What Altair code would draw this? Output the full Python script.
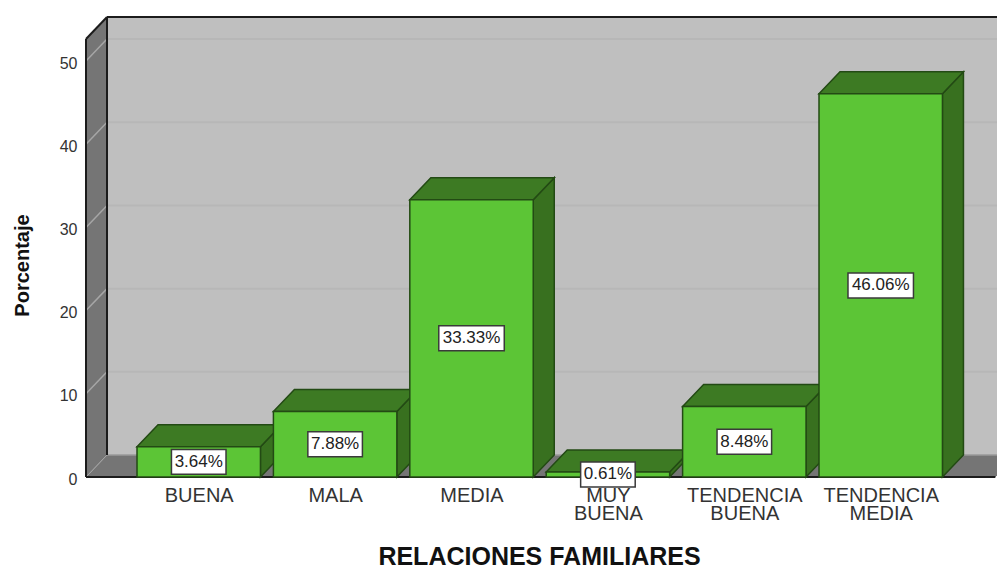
import altair as alt
import pandas as pd

categories = ["BUENA", "MALA", "MEDIA", "MUY\nBUENA", "TENDENCIA\nBUENA", "TENDENCIA\nMEDIA"]
values = [3.64, 7.88, 33.33, 0.61, 8.48, 46.06]
labels = ["3.64%", "7.88%", "33.33%", "0.61%", "8.48%", "46.06%"]
y_ticks = [0, 10, 20, 30, 40, 50]

# scale set-up: one x unit is one category step
X_MIN, X_MAX = -0.374, 6.305
Y_MAX = 55.29
BAR_W = 0.905
DX, DY = 0.154, 2.64
WALL_L = X_MIN
FLOOR_R = 6.293
BOX_CHAR_W, BOX_H = 0.04, 1.5

FRONT, TOP, SIDE, EDGE = "#5CC536", "#3D7A23", "#38701F", "#234A14"
BACK, DARK_WALL, GRID, WALL_GRID = "#BFBFBF", "#757575", "#B7B7B7", "#A6A6A6"
LINE = "#1C1C1C"
FONT = "Liberation Sans"

xs = alt.Scale(domain=[X_MIN, X_MAX], nice=False, zero=False)
ys = alt.Scale(domain=[0, Y_MAX], nice=False, zero=False)

centers = [i + BAR_W / 2 for i in range(len(categories))]
label_literal = "[" + ",".join("'" + c.replace("\n", "|") + "'" for c in categories) + "]"

x_axis = alt.Axis(
    values=centers, title="RELACIONES FAMILIARES", domain=False, ticks=False, grid=False,
    labelExpr=f"split({label_literal}[round(datum.value - {BAR_W / 2})], '|')",
    labelFont=FONT, labelFontSize=20, labelColor="#333333", labelPadding=8,
    labelLineHeight=18, labelOverlap=False, labelFlush=False, labelBound=False,
    titleFont=FONT, titleFontSize=25, titleFontWeight="bold", titleColor="#111111",
    titleX=453, titleY=79, titleBaseline="middle", titleAnchor="middle",
)
y_axis = alt.Axis(
    values=y_ticks, title="Porcentaje", domain=False, ticks=False, grid=False,
    labelFont=FONT, labelFontSize=16, labelColor="#333333", labelPadding=9, labelOffset=2,
    titleFont=FONT, titleFontSize=20, titleFontWeight="bold", titleColor="#111111",
    titleX=-64, titleY=248, titleAngle=270, titleBaseline="middle",
)


def X(f="x"):
    return alt.X(f"{f}:Q", scale=xs, axis=x_axis)


def Y(f="y"):
    return alt.Y(f"{f}:Q", scale=ys, axis=y_axis)


layers = []


def rules(df, color, w):
    return alt.Chart(df).mark_rule(color=color, strokeWidth=w).encode(
        x=X("x"), x2=alt.X2("x2"), y=Y("y"), y2=alt.Y2("y2"))


# back wall
layers.append(alt.Chart(pd.DataFrame({"x": [WALL_L + DX], "x2": [X_MAX], "y": [DY], "y2": [Y_MAX]}))
              .mark_rect(color=BACK).encode(x=X("x"), x2=alt.X2("x2"), y=Y("y"), y2=alt.Y2("y2")))
# left wall
layers.append(alt.Chart(pd.DataFrame({"x": [WALL_L, WALL_L + DX], "y": [0, DY], "y2": [Y_MAX - DY, Y_MAX]}))
              .mark_area(color=DARK_WALL).encode(x=X("x"), y=Y("y"), y2=alt.Y2("y2")))
# floor
layers.append(alt.Chart(pd.DataFrame({"y": [0, DY], "x": [WALL_L, WALL_L + DX], "x2": [FLOOR_R, FLOOR_R + DX]}))
              .mark_area(color=DARK_WALL, orient="horizontal").encode(y=Y("y"), x=X("x"), x2=alt.X2("x2")))
# grid on the back wall and the left wall
layers.append(rules(pd.DataFrame({"x": [WALL_L + DX] * 5, "x2": [X_MAX] * 5,
                                  "y": [t + DY for t in y_ticks[1:]], "y2": [t + DY for t in y_ticks[1:]]}), GRID, 2))
layers.append(rules(pd.DataFrame({"x": [WALL_L] * 5, "x2": [WALL_L + DX] * 5,
                                  "y": y_ticks[1:], "y2": [t + DY for t in y_ticks[1:]]}), WALL_GRID, 1.5))
layers.append(rules(pd.DataFrame({"x": [WALL_L], "x2": [WALL_L + DX], "y": [0], "y2": [DY]}), WALL_GRID, 1))
layers.append(rules(pd.DataFrame({"x": [WALL_L + DX], "x2": [X_MAX], "y": [DY], "y2": [DY]}), "#9A9A9A", 1.5))
# frame
frame = pd.DataFrame({
    "x": [WALL_L, WALL_L + DX, WALL_L, WALL_L + DX, WALL_L],
    "x2": [WALL_L, WALL_L + DX, WALL_L + DX, X_MAX, FLOOR_R],
    "y": [0, DY, Y_MAX - DY, Y_MAX, 0],
    "y2": [Y_MAX - DY, Y_MAX, Y_MAX, Y_MAX, 0],
})
layers.append(rules(frame, LINE, 2))

# bars, drawn left to right so each front hides its neighbour's side
for i, v in enumerate(values):
    l, r = i, i + BAR_W
    side = pd.DataFrame({"x": [r, r + DX], "y": [0, DY], "y2": [v, v + DY]})
    top = pd.DataFrame({"y": [v, v + DY], "x": [l, l + DX], "x2": [r, r + DX]})
    front = pd.DataFrame({"x": [l], "x2": [r], "y": [0], "y2": [v]})
    layers.append(alt.Chart(side).mark_area(color=SIDE, stroke=EDGE, strokeWidth=1.5)
                  .encode(x=X("x"), y=Y("y"), y2=alt.Y2("y2")))
    layers.append(alt.Chart(top).mark_area(color=TOP, stroke=EDGE, strokeWidth=1.5, orient="horizontal")
                  .encode(y=Y("y"), x=X("x"), x2=alt.X2("x2")))
    layers.append(alt.Chart(front).mark_rect(color=FRONT, stroke=EDGE, strokeWidth=1.5)
                  .encode(x=X("x"), x2=alt.X2("x2"), y=Y("y"), y2=alt.Y2("y2")))

# value labels
half = [BOX_CHAR_W * len(t) for t in labels]
box = pd.DataFrame({
    "x": [c - h for c, h in zip(centers, half)], "x2": [c + h for c, h in zip(centers, half)],
    "y": [v / 2 - BOX_H for v in values], "y2": [v / 2 + BOX_H for v in values],
})
layers.append(alt.Chart(box).mark_rect(color="white", stroke="#3A3A3A", strokeWidth=1.5)
              .encode(x=X("x"), x2=alt.X2("x2"), y=Y("y"), y2=alt.Y2("y2")))
text = pd.DataFrame({"x": centers, "y": [v / 2 for v in values], "t": labels})
layers.append(alt.Chart(text).mark_text(font=FONT, fontSize=17, color="#222222", baseline="middle", align="center", dy=0)
              .encode(x=X("x"), y=Y("y"), text="t:N"))

chart = alt.layer(*layers).properties(
    width=911, height=460,
    padding={"left": 78, "top": 9, "right": 0, "bottom": 88},
    autosize=alt.AutoSizeParams(type="none"),
    background="white",
).configure_view(stroke=None)

chart.save("out.html", embed_options={"renderer": "svg", "actions": False})
